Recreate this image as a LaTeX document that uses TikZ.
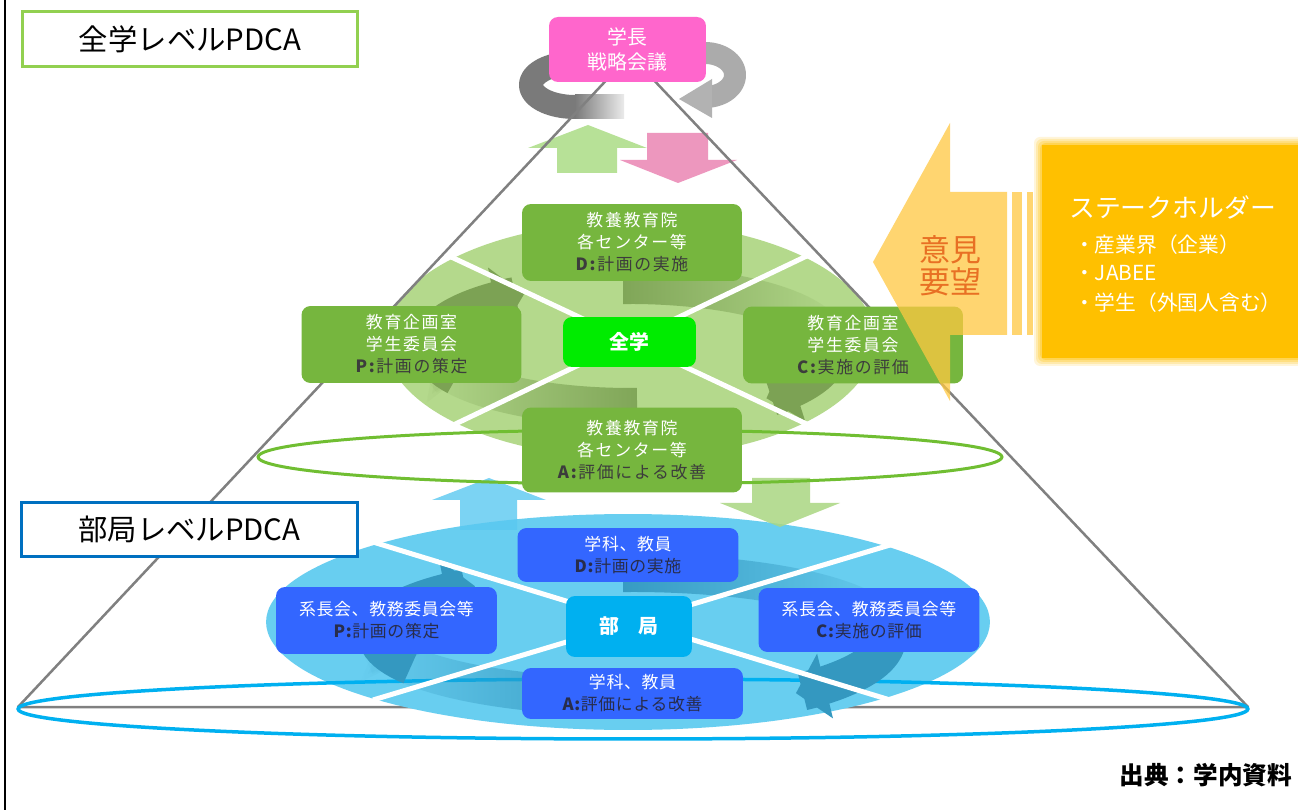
\documentclass[tikz,border=0pt]{standalone}
\usepackage{fontspec}
\setmainfont{Noto Sans CJK JP}
\usetikzlibrary{arrows.meta,fadings}
\definecolor{boxgreen}{RGB}{118,182,62}
\definecolor{lightgreen}{RGB}{180,217,140}
\definecolor{ringgreen}{RGB}{124,162,84}
\definecolor{centergreen}{RGB}{0,236,0}
\definecolor{edgegreen}{RGB}{112,190,50}
\definecolor{boxblue}{RGB}{51,102,255}
\definecolor{lightblue}{RGB}{104,206,240}
\definecolor{ringblue}{RGB}{52,152,192}
\definecolor{centerblue}{RGB}{0,176,240}
\definecolor{edgeblue}{RGB}{0,176,240}
\definecolor{pinkbox}{RGB}{255,102,204}
\definecolor{pinkarrow}{RGB}{236,140,184}
\definecolor{greenarrow}{RGB}{176,222,140}
\definecolor{skyarrow}{RGB}{90,200,240}
\definecolor{sagearrow}{RGB}{170,215,130}
\definecolor{voiceyellow}{RGB}{255,200,65}
\definecolor{voicetext}{RGB}{232,112,36}
\definecolor{holder}{RGB}{255,192,0}
\definecolor{darktext}{RGB}{60,60,60}
\definecolor{navytext}{RGB}{40,45,75}
\definecolor{framegreen}{RGB}{146,208,80}
\definecolor{frameblue}{RGB}{0,112,192}
\definecolor{pyramidgray}{RGB}{128,128,128}
\tikzset{
  gbox/.style={fill=boxgreen, rounded corners=0.18cm, minimum width=4.4cm, minimum height=1.54cm,
    align=center, text=white, inner sep=0pt,
    font=\fontsize{9.6}{12.5}\selectfont\addfontfeature{LetterSpace=10}},
  bbox/.style={fill=boxblue, rounded corners=0.18cm, minimum width=4.42cm,
    align=center, text=white, inner sep=0pt,
    font=\fontsize{9.6}{12.5}\selectfont\addfontfeature{LetterSpace=4}},
  hub/.style={rounded corners=0.18cm, text=white, inner sep=0pt,
    font=\fontsize{11.3}{13}\selectfont\bfseries},
  levelbox/.style={draw, line width=0.06cm, fill=white, minimum width=6.72cm,
    minimum height=1.1cm, inner sep=0pt, font=\fontsize{16.7}{20}\selectfont},
  ringband/.style={line width=0.76cm, -{Triangle[length=0.6cm,width=1.3cm]}},
  crossline/.style={white, line width=0.1cm},
  itemtext/.style={anchor=west, text=white, font=\fontsize{11.8}{13}\selectfont},
}
\begin{document}
\begin{tikzpicture}[x=0.02cm, y=-0.02cm]
\clip (0,0) rectangle (1298,810);
\fill[white] (0,0) rectangle (1298,810);
% left frame edge
\draw[line width=0.04cm] (5,0) -- (5,810);

% grey cycle arrows round the president's meeting
\draw[line width=0.48cm, draw=black!52] plot[domain=90:270, samples=40, variable=\t]
  ({575+44*cos(\t)},{85+22*sin(\t)});
\shade[left color=black!52, right color=black!8] (575,95) rectangle (624,119);
\draw[line width=0.44cm, draw=black!33] plot[domain=-90:90, samples=40, variable=\t]
  ({705+30*cos(\t)},{75+22*sin(\t)});
\fill[black!30] (712,79) -- (712,118) -- (679,99) -- cycle;

% up / down arrows below the top
\fill[greenarrow, opacity=0.9] (588,125) -- (647,148) -- (617,148) -- (617,173)
  -- (557,173) -- (557,148) -- (528,148) -- cycle;
\fill[pinkarrow, opacity=0.9] (620,160) -- (647,160) -- (647,133) -- (708,133)
  -- (708,160) -- (737,160) -- (678,183) -- cycle;

% university-level cycle
\fill[lightgreen] (630,340) ellipse [x radius=4.9cm, y radius=2.36cm];
\draw[ringgreen, ringband] plot[domain=150:238, samples=30, variable=\t] ({630+200*cos(\t)},{346+61*sin(\t)});
\draw[ringgreen, ringband, path fading=east] plot[domain=268:365, samples=30, variable=\t] ({630+200*cos(\t)},{346+61*sin(\t)});
\draw[ringgreen, ringband] plot[domain=-10:47, samples=30, variable=\t] ({630+200*cos(\t)},{350+66*sin(\t)});
\draw[ringgreen, ringband, path fading=west] plot[domain=88:168, samples=30, variable=\t] ({630+200*cos(\t)},{346+61*sin(\t)});

% pyramid
\coordinate (apex) at (630,55);
\coordinate (bl) at (18,707);
\coordinate (br) at (1248,707);
\draw[pyramidgray, line width=0.05cm, line join=round] (bl) -- (apex) -- (br) -- cycle;

% department-level cycle
\fill[lightblue] (628,622) ellipse [x radius=7.24cm, y radius=2.16cm];
\draw[edgeblue, line width=0.07cm] (633,709) ellipse [x radius=12.3cm, y radius=0.6cm];
\draw[ringblue, ringband] plot[domain=150:232, samples=30, variable=\t] ({632+255*cos(\t)},{635+62*sin(\t)});
\draw[ringblue, ringband, path fading=east] plot[domain=268:355, samples=30, variable=\t] ({632+255*cos(\t)},{635+62*sin(\t)});
\draw[ringblue, ringband] plot[domain=-8:50, samples=30, variable=\t] ({632+255*cos(\t)},{638+72*sin(\t)});
\draw[ringblue, ringband, path fading=west] plot[domain=90:175, samples=30, variable=\t] ({632+255*cos(\t)},{635+62*sin(\t)});

% arrows between the two levels
\fill[skyarrow, opacity=0.8] (489,478) -- (546,500) -- (517,500) -- (517,530)
  -- (460,530) -- (460,500) -- (432,500) -- cycle;
\fill[sagearrow, opacity=0.85] (752,478) -- (810,478) -- (810,503) -- (840,503)
  -- (780,527) -- (720,503) -- (752,503) -- cycle;

\draw[edgegreen, line width=0.06cm] (630,457) ellipse [x radius=7.44cm, y radius=0.54cm];

% separators
\draw[crossline] (447,255) -- (813,427);
\draw[crossline] (447,428) -- (813,253);
\draw[crossline] (373,542) -- (890,700);
\draw[crossline] (373,700) -- (890,545);

% university-level boxes
\node[gbox] (gD) at (632,242.5) {教養教育院\\各センター等\\\textcolor{darktext}{\textbf{D:}計画の実施}};
\node[gbox] (gP) at (411.5,344.5) {教育企画室\\学生委員会\\\textcolor{darktext}{\textbf{P:}計画の策定}};
\node[gbox] (gC) at (853,345) {教育企画室\\学生委員会\\\textcolor{darktext}{\textbf{C:}実施の評価}};
\node[gbox, minimum height=1.7cm] (gA) at (632,450) {教養教育院\\各センター等\\\textcolor{darktext}{\textbf{A:}評価による改善}};
\node[hub, fill=centergreen, minimum width=2.66cm, minimum height=1cm] (gHub) at (629.5,342) {全学};

% department-level boxes
\node[bbox, minimum height=1.08cm] (bD) at (628,555) {学科、教員\\\textcolor{navytext}{\textbf{D:}計画の実施}};
\node[bbox, minimum height=1.34cm] (bP) at (386.5,620.5) {系長会、教務委員会等\\\textcolor{navytext}{\textbf{P:}計画の策定}};
\node[bbox, minimum height=1.28cm] (bC) at (869,620) {系長会、教務委員会等\\\textcolor{navytext}{\textbf{C:}実施の評価}};
\node[bbox, minimum height=1.02cm] (bA) at (632.5,693.5) {学科、教員\\\textcolor{navytext}{\textbf{A:}評価による改善}};
\node[hub, fill=centerblue, minimum width=2.52cm, minimum height=1.22cm] (bHub) at (629,626.5) {部　局};

% president's strategy meeting
\node[hub, fill=pinkbox, minimum width=3.14cm, minimum height=1.3cm, align=center,
  font=\fontsize{11.3}{14}\selectfont] (top) at (627.5,49.5) {学長\\戦略会議};

% stakeholder voice arrow
\fill[voiceyellow, opacity=0.75] (873,262) -- (950,123) -- (950,192) -- (1007,192)
  -- (1007,335) -- (950,335) -- (950,401) -- cycle;
\fill[voiceyellow, opacity=0.75] (1012,192) rectangle (1022,335);
\fill[voiceyellow, opacity=0.75] (1027,192) rectangle (1033,335);
\node[text=voicetext, align=center, font=\fontsize{17.6}{18.2}\selectfont] (voice) at (950,266) {意見\\要望};

% stakeholders
\foreach \g/\o in {8/0.15, 6/0.2, 4/0.25, 2/0.35}{
  \fill[holder, opacity=\o, rounded corners=0.12cm] (1042-\g,145-\g) rectangle (1320,358+\g);
}
\fill[holder] (1042,145) rectangle (1320,358);
\node[anchor=west, text=white, font=\fontsize{14.7}{16}\selectfont] (sh) at (1063,207) {ステークホルダー};
\node[itemtext] (s1) at (1068,245) {・産業界（企業）};
\node[itemtext] (s2) at (1068,273) {・JABEE};
\node[itemtext] (s3) at (1068,303) {・学生（外国人含む）};

% level labels
\node[levelbox, draw=framegreen] (lvU) at (190,39.5) {全学レベルPDCA};
\node[levelbox, draw=frameblue] (lvD) at (189.5,529.5) {部局レベルPDCA};

% source
\node[anchor=east, font=\fontsize{14}{16}\selectfont\bfseries] (src) at (1298,775) {出典：学内資料};
\end{tikzpicture}
\end{document}
